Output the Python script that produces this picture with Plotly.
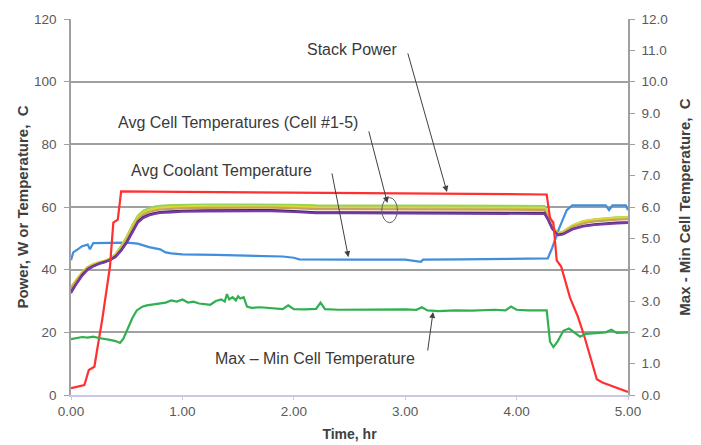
import plotly.graph_objects as go

# ---------------- data ----------------
power_t = [0, 0.12, 0.16, 0.21, 0.23, 0.28, 0.35, 0.38, 0.42, 0.45, 1.0, 2.0, 3.0, 4.0, 4.27,
           4.30, 4.33, 4.36, 4.40, 4.48, 4.55, 4.61, 4.68, 4.72, 4.77, 4.85, 4.96, 5.0]
power_w = [2.2, 3.2, 8.0, 9.0, 13.4, 24.0, 41.0, 55.0, 56.0, 65.0, 64.8, 64.6, 64.3, 64.0, 64.0,
           56.5, 55.0, 43.0, 41.0, 31.0, 25.0, 18.5, 10.0, 5.0, 4.0, 3.0, 1.6, 1.0]

cell_t = [0, 0.05, 0.1, 0.15, 0.2, 0.25, 0.3, 0.35, 0.4, 0.45, 0.5, 0.55, 0.6, 0.65, 0.7, 0.75,
          0.8, 0.9, 1.0, 1.2, 1.5, 1.8, 2.0, 2.2, 2.5, 3.0, 3.5, 4.0, 4.25, 4.28, 4.32, 4.37,
          4.42, 4.5, 4.6, 4.7, 4.8, 4.9, 5.0]
cell_green = [34.0, 36.8, 39.0, 40.8, 41.7, 42.3, 42.7, 43.6, 45.0, 47.6, 50.5, 54.2, 57.2, 58.8,
              59.6, 60.1, 60.4, 60.6, 60.7, 60.8, 60.8, 60.8, 60.7, 60.5, 60.5, 60.5, 60.5, 60.5,
              60.3, 57.8, 54.0, 51.6, 52.2, 54.1, 55.5, 56.1, 56.5, 56.7, 56.8]
cell_yellow = [34.5, 37.0, 39.2, 40.9, 41.8, 42.4, 42.8, 43.5, 44.8, 47.2, 50.0, 53.6, 56.6, 58.2,
               59.0, 59.5, 59.8, 60.0, 60.1, 60.2, 60.3, 60.3, 60.1, 59.9, 59.9, 59.9, 59.9, 59.9,
               59.7, 57.4, 53.8, 51.5, 52.1, 54.0, 55.4, 56.0, 56.4, 56.6, 56.7]
cell_orange = [34.0, 36.5, 38.8, 40.6, 41.5, 42.2, 42.6, 43.3, 44.5, 46.8, 49.5, 53.0, 56.0, 57.6,
               58.4, 58.9, 59.2, 59.4, 59.6, 59.7, 59.8, 59.8, 59.6, 59.3, 59.3, 59.3, 59.3, 59.3,
               59.1, 57.0, 53.5, 51.3, 51.8, 53.6, 54.8, 55.4, 55.8, 56.0, 56.1]
cell_dark = [33.0, 35.8, 38.3, 40.2, 41.2, 41.9, 42.4, 43.1, 44.2, 46.2, 48.8, 52.3, 55.3, 56.8,
             57.6, 58.1, 58.4, 58.6, 58.8, 58.9, 59.0, 59.0, 58.7, 58.3, 58.3, 58.3, 58.2, 58.3,
             58.1, 56.2, 53.1, 51.1, 51.4, 53.0, 54.0, 54.5, 54.8, 55.0, 55.1]
cell_purple = [32.5, 35.5, 38.0, 40.0, 41.0, 41.8, 42.3, 43.0, 44.0, 46.0, 48.5, 52.0, 55.0, 56.5,
               57.3, 57.8, 58.1, 58.3, 58.5, 58.6, 58.7, 58.7, 58.4, 58.0, 58.0, 58.0, 57.9, 58.0,
               57.8, 56.0, 53.0, 51.0, 51.3, 52.8, 53.8, 54.3, 54.6, 54.8, 54.9]

cool_t = [0, 0.02, 0.06, 0.1, 0.15, 0.17, 0.2, 0.3, 0.4, 0.5, 0.6, 0.7, 0.8, 0.85, 0.9, 1.0, 1.3,
          1.6, 1.9, 2.0, 2.05, 2.5, 3.0, 3.14, 3.16, 3.5, 4.0, 4.28, 4.32, 4.38, 4.45, 4.5, 4.8,
          4.83, 4.86, 4.98, 5.0]
cool_c = [43.0, 45.5, 46.5, 47.5, 48.0, 46.5, 48.5, 48.5, 48.5, 48.6, 48.3, 47.2, 46.5, 45.5, 45.2,
          44.9, 44.7, 44.5, 44.2, 43.8, 43.3, 43.2, 43.2, 42.5, 43.2, 43.3, 43.4, 43.6, 47.0, 53.0,
          59.0, 60.5, 60.5, 59.0, 60.5, 60.5, 59.0]

dt_t = [0, 0.05, 0.1, 0.15, 0.2, 0.25, 0.3, 0.35, 0.4, 0.44, 0.47, 0.5, 0.55, 0.59, 0.64, 0.68,
        0.75, 0.8, 0.85, 0.9, 0.95, 1.0, 1.05, 1.1, 1.15, 1.2, 1.25, 1.3, 1.35, 1.38, 1.4, 1.42,
        1.45, 1.48, 1.5, 1.52, 1.55, 1.58, 1.62, 1.7, 1.8, 1.9, 1.95, 2.0, 2.1, 2.2, 2.24, 2.28,
        2.4, 2.6, 2.8, 3.0, 3.1, 3.15, 3.2, 3.3, 3.45, 3.6, 3.8, 3.9, 3.95, 4.0, 4.1, 4.2, 4.27,
        4.30, 4.33, 4.37, 4.42, 4.47, 4.52, 4.57, 4.62, 4.7, 4.8, 4.85, 4.9, 5.0]
dt_c = [1.78, 1.82, 1.85, 1.83, 1.86, 1.82, 1.80, 1.76, 1.72, 1.66, 1.80, 2.05, 2.45, 2.70, 2.82,
        2.86, 2.90, 2.93, 2.95, 3.02, 2.98, 3.05, 2.95, 2.98, 2.92, 2.90, 2.88, 3.00, 3.05, 2.98,
        3.22, 3.05, 3.12, 3.02, 3.15, 3.08, 3.12, 2.82, 2.78, 2.80, 2.76, 2.74, 2.86, 2.74, 2.73,
        2.75, 2.95, 2.74, 2.72, 2.73, 2.72, 2.73, 2.72, 2.80, 2.70, 2.68, 2.70, 2.69, 2.72, 2.70,
        2.82, 2.72, 2.70, 2.70, 2.70, 1.70, 1.53, 1.72, 2.05, 2.12, 1.98, 1.86, 1.95, 1.98, 2.00,
        2.08, 1.98, 2.00]

x_ticks = [0, 1, 2, 3, 4, 5]

# ---------------- figure ----------------
FONT = "Arial, Liberation Sans, sans-serif"
fig = go.Figure()

fig.add_trace(go.Scatter(x=cool_t, y=cool_c, mode="lines", line=dict(color="#3f8fdc", width=2.2)))
for vals, col in [(cell_green, "#96d35a"), (cell_yellow, "#d9d92e"), (cell_orange, "#c9a060"),
                  (cell_dark, "#3a2a60"), (cell_purple, "#7a3aa8")]:
    fig.add_trace(go.Scatter(x=cell_t, y=vals, mode="lines", line=dict(color=col, width=2.2)))
fig.add_trace(go.Scatter(x=power_t, y=power_w, mode="lines", line=dict(color="#ff3030", width=2.2)))
fig.add_trace(go.Scatter(x=dt_t, y=dt_c, mode="lines", yaxis="y2",
                         line=dict(color="#30b050", width=2.2)))

ann_font = dict(family=FONT, size=16, color="#3a3a3a")
texts = [("Stack Power", 2.52, 110.4), ("Avg Cell Temperatures (Cell #1-5)", 1.50, 87.1),
         ("Avg Coolant Temperature", 1.35, 71.8), ("Max \u2013 Min Cell Temperature", 2.19, 11.8)]
for t, x, y in texts:
    fig.add_annotation(x=x, y=y, xref="x", yref="y", text=t, showarrow=False, font=ann_font)

arrows = [(3.02, 109.5, 3.375, 64.8), (2.67, 84.6, 2.84, 61.3),
          (2.34, 71.2, 2.49, 44.0), (3.20, 13.7, 3.25, 26.5)]
for ax, ay, x, y in arrows:
    fig.add_annotation(x=x, y=y, ax=ax, ay=ay, xref="x", yref="y", axref="x", ayref="y",
                       text="", showarrow=True, arrowhead=2, arrowsize=1.2, arrowwidth=1,
                       arrowcolor="#404040")

fig.add_shape(type="circle", xref="x", yref="y", x0=2.79, x1=2.93, y0=55, y1=63,
              line=dict(color="#606060", width=1))

title_font = dict(family=FONT, size=15, color="#404040")
fig.update_layout(
    width=701, height=445, showlegend=False, hovermode=False,
    margin=dict(l=71, r=73, t=19, b=50, autoexpand=False),
    paper_bgcolor="white", plot_bgcolor="white",
    font=dict(family=FONT, size=13.5, color="#5a5a5a"),
    xaxis=dict(range=[0, 5], tickvals=x_ticks, tickformat=".2f", showgrid=False,
               showline=True, linecolor="#c8c8e6", linewidth=2, ticks="outside", ticklen=3,
               tickcolor="#c8c8e6", zeroline=False, automargin=False,
               title=dict(text="<b>Time, hr</b>", font=dict(family=FONT, size=14, color="#404040"),
                          standoff=11)),
    yaxis=dict(range=[0, 120], dtick=20, showgrid=True, gridcolor="#a0a0a0", gridwidth=1.5,
               showline=True, linecolor="#a0a0a0", linewidth=1.5, ticks="outside", ticklen=5,
               tickcolor="#a0a0a0", zeroline=False, ticklabelstandoff=5, automargin=False,
               title=dict(text="<b>Power, W or Temperature,\u00a0 C</b>",
                          font=title_font, standoff=2)),
    yaxis2=dict(range=[0, 12], dtick=1, tickformat=".1f", overlaying="y", side="right",
                showgrid=False, showline=True, linecolor="#a0a0a0", linewidth=1.5,
                ticks="outside", ticklen=5, tickcolor="#a0a0a0", zeroline=False,
                ticklabelstandoff=4, automargin=False,
                title=dict(text="<b>Max - Min Cell Temperature,\u00a0 C</b>",
                           font=title_font, standoff=13)),
)

fig.write_html("out.html")
